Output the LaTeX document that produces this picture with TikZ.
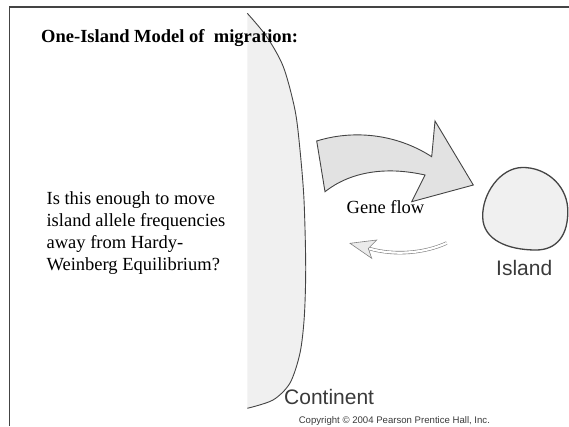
\documentclass[tikz,border=0pt]{standalone}
\usepackage{fontspec}
\setmainfont{Liberation Serif}
\newfontfamily\labelfont{Liberation Sans}
\usepackage{xcolor}
\usetikzlibrary{positioning,arrows.meta}

\definecolor{edgegray}{HTML}{444444}
\definecolor{landgray}{HTML}{F0F0F0}
\definecolor{flowgray}{HTML}{E2E2E2}
\definecolor{labelgray}{HTML}{3A3A3A}

\begin{document}
\begin{tikzpicture}[
    x=1pt, y=-1pt,
    frameline/.style={draw=edgegray, line width=1.1pt},
    land/.style={fill=landgray},
    coast/.style={draw=edgegray, line width=0.9pt},
    flowarrow/.style={draw=edgegray, fill=flowgray, line width=0.9pt, line join=miter},
    backarrow/.style={draw=gray, line width=0.6pt},
    serif/.style={font=\fontsize{18.5}{22.2}\selectfont, inner sep=0pt},
    place/.style={font=\labelfont\fontsize{21}{25}\selectfont, text=labelgray, inner sep=0pt}
]
\useasboundingbox (0,0) rectangle (569,426);

% frame
\draw[frameline] (9.5,426) -- (9.5,7) -- (569,7);

% continent
\fill[land] (247.3,408.3) -- plot[smooth] coordinates {(247.3,13.3) (266.7,36.7) (283.3,66.7) (295,110) (300,150) (304,200) (305.7,266.7) (304.3,316.7) (300,353) (290,383) (273,400) (247.3,408.3)} -- cycle;
\draw[coast] plot[smooth] coordinates {(247.3,13.3) (266.7,36.7) (283.3,66.7) (295,110) (300,150) (304,200) (305.7,266.7) (304.3,316.7) (300,353) (290,383) (273,400) (247.3,408.3)};

% island
\draw[coast, fill=landgray, line width=1.3pt] (522,167.5)
    .. controls (545,167) and (566,184) .. (567.7,208)
    .. controls (569,236) and (556,250) .. (536,250)
    .. controls (508,250) and (483,240) .. (482.7,217)
    .. controls (482,194) and (500,168) .. cycle;

% gene flow arrow
\draw[flowarrow] (316.7,141) .. controls (352,130) and (395,133) .. (431.7,156.7)
    -- (435,121) -- (473.3,185) -- (411.7,201.7) -- (425,175)
    .. controls (385,166) and (350,172) .. (325,191.7) -- cycle;

% return arrow
\draw[backarrow, double=white, double distance=2.2pt] (446.7,243) .. controls (425,253) and (395,256) .. (369,248.5);
\draw[backarrow, fill=flowgray!70, line join=miter] (350,243.3) -- (376.7,240) -- (368.3,248.5) -- (371.7,258.3) -- cycle;

% texts
\node[serif, anchor=base west, font=\bfseries\fontsize{18.5}{22.2}\selectfont] (title) at (41,42.5) {One-Island Model of\ \ migration:};
\node[serif, anchor=base west] (q1) at (46.4,204) {Is this enough to move};
\node[serif, anchor=base west] (q2) at (46.4,226.2) {island allele frequencies};
\node[serif, anchor=base west] (q3) at (46.4,248.4) {away from Hardy-};
\node[serif, anchor=base west] (q4) at (46.4,270.6) {Weinberg Equilibrium?};
\node[serif, anchor=base west] (flow) at (346.5,213) {Gene flow};
\node[place, anchor=base west] (island) at (496,275) {Island};
\node[place, anchor=base west] (continent) at (284,404) {Continent};
\node[place, anchor=base west, font=\labelfont\fontsize{9.6}{11}\selectfont] (copy) at (298.6,423) {Copyright \textcopyright\ 2004 Pearson Prentice Hall, Inc.};
\end{tikzpicture}
\end{document}
